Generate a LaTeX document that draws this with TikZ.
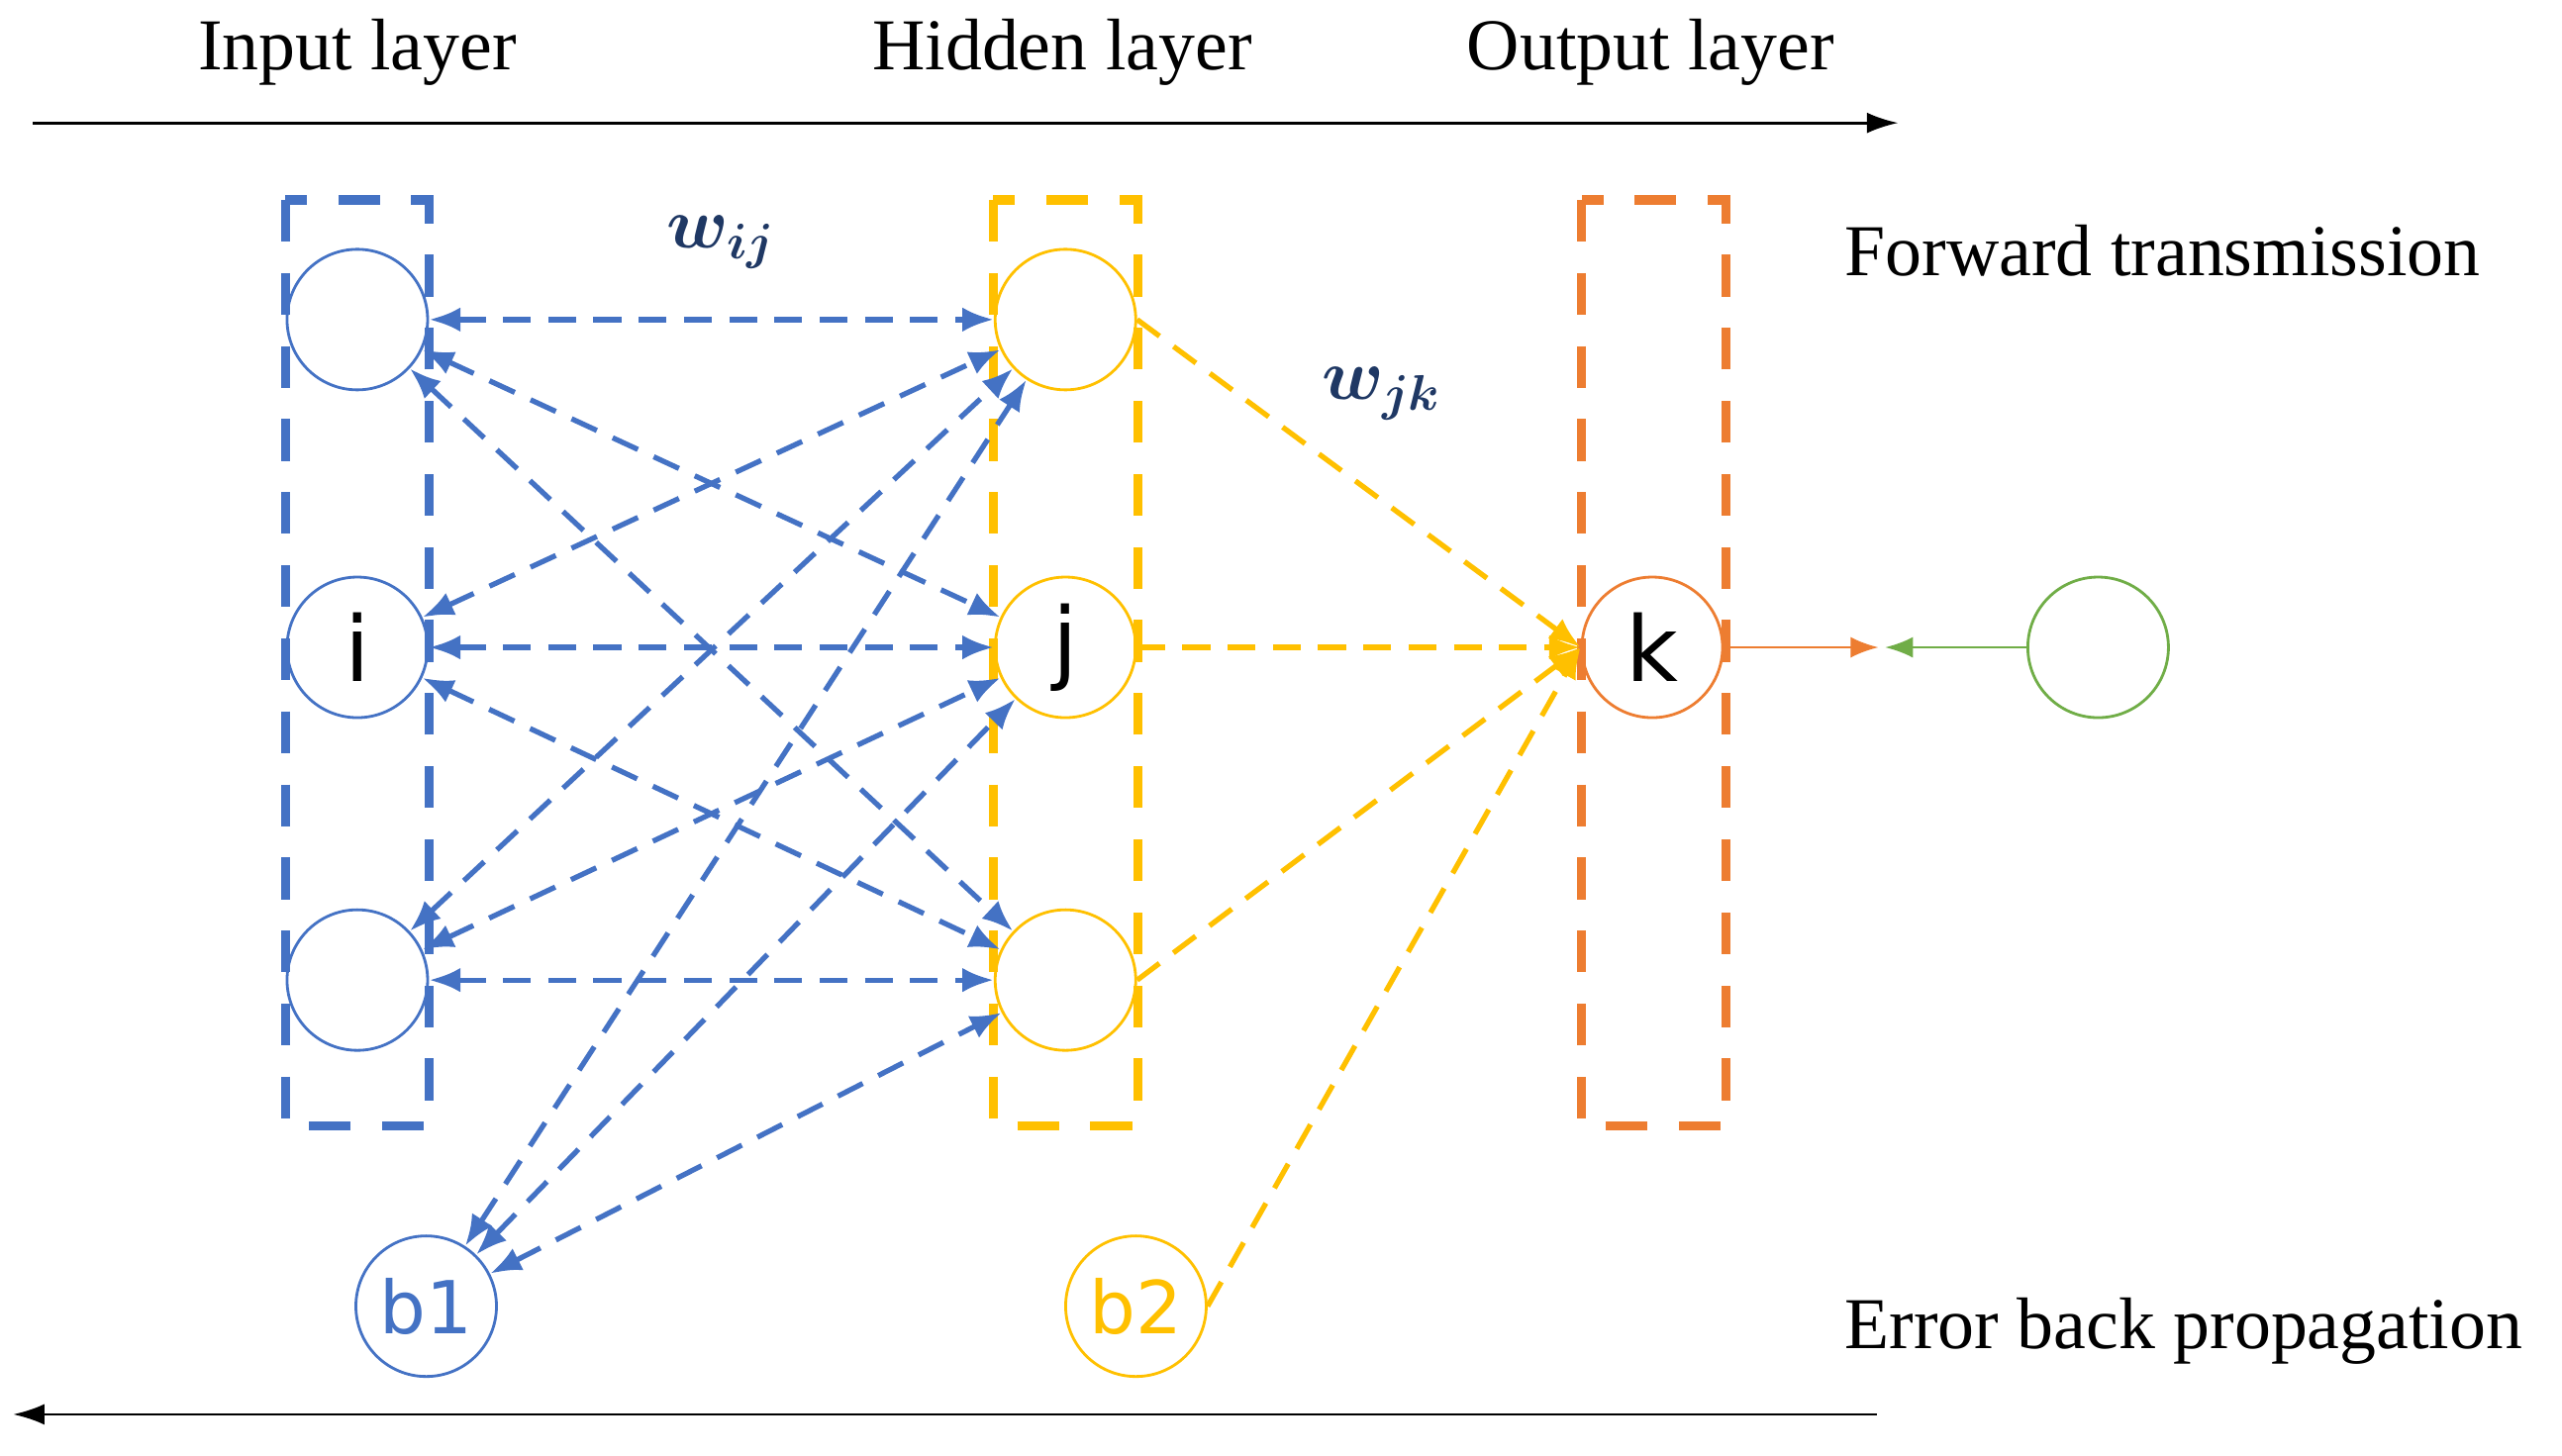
\documentclass[tikz,border=0pt]{standalone}
\usepackage{amsmath,amssymb,bm}
\usepackage{fontspec}
\setmainfont{Liberation Serif}
\newfontfamily\nodefont{DejaVu Sans}
\usetikzlibrary{arrows.meta}
\definecolor{cblue}{HTML}{4472C4}
\definecolor{cyel}{HTML}{FFC000}
\definecolor{cor}{HTML}{ED7D31}
\definecolor{cgr}{HTML}{70AD47}
\definecolor{cdk}{HTML}{1F3864}
\begin{document}
\begin{tikzpicture}[x=0.01656cm,y=-0.01656cm,
 neu/.style={circle,draw,line width=0.8pt,minimum size=1.42cm,inner sep=0pt,font=\nodefont\fontsize{26}{28}\selectfont},
 box/.style={draw,line width=2.6pt,dash pattern=on 12pt off 9pt},
 bl/.style={cblue,line width=1.5pt,dash pattern=on 8pt off 5pt,{Latex[length=9pt,width=7pt]}-{Latex[length=9pt,width=7pt]}},
 yl/.style={cyel,line width=1.5pt,dash pattern=on 8pt off 5pt,-{Latex[length=9pt,width=7pt]}},
 lab/.style={font=\fontsize{21}{24}\selectfont},
 wl/.style={cdk,font=\fontsize{22}{24}\selectfont}]
\useasboundingbox (0,0) rectangle (1563,888);
\draw[box,cblue] (174,122) rectangle (262,687);
\draw[box,cyel] (606,122) rectangle (694,687);
\draw[box,cor] (965,122) rectangle (1053,687);
\node[neu,cblue] (i1) at (218,195) {};
\node[neu,cblue,text=black] (i2) at (218,395) {i};
\node[neu,cblue] (i3) at (218,598) {};
\node[neu,cyel] (h1) at (650,195) {};
\node[neu,cyel,text=black] (h2) at (650,395) {j};
\node[neu,cyel] (h3) at (650,598) {};
\node[neu,cor,text=black] (k) at (1008,395) {k};
\node[neu,cgr] (g) at (1280,395) {};
\node[neu,cblue,text=cblue,font=\nodefont\fontsize{21}{24}\selectfont] (b1) at (260,797) {b1};
\node[neu,cyel,text=cyel,font=\nodefont\fontsize{21}{24}\selectfont] (b2) at (693,797) {b2};
\foreach \a in {i1,i2,i3,b1}{\foreach \b in {h1,h2,h3}{\draw[bl] (\a) -- (\b);}}
\draw[yl] (h1.east) -- (k.west);
\draw[yl] (h2) -- (k.west);
\draw[yl] (h3.east) -- (k.west);
\draw[yl] (b2.east) -- (k.west);
\coordinate (m1) at (1146,395);
\coordinate (m2) at (1150,395);
\draw[cor,line width=0.8pt,-{Latex[length=8pt,width=6pt]}] (k) -- (m1);
\draw[cgr,line width=0.8pt,-{Latex[length=8pt,width=6pt]}] (g) -- (m2);
\coordinate (t1) at (20,75); \coordinate (t2) at (1158,75);
\coordinate (u1) at (1145,863); \coordinate (u2) at (8,863);
\draw[line width=0.8pt,-{Latex[length=9pt,width=6pt]}] (t1) -- (t2);
\draw[line width=0.8pt,-{Latex[length=9pt,width=6pt]}] (u1) -- (u2);
\node[lab] (l1) at (218,32) {Input layer};
\node[lab] (l2) at (648,32) {Hidden layer};
\node[lab] (l3) at (1007,32) {Output layer};
\node[lab,anchor=west] (l4) at (1118,153) {Forward transmission};
\node[lab,anchor=west] (l5) at (1118,812) {Error back propagation};
\node[wl] (w1) at (440,148) {$\bm{w_{ij}}$};
\node[wl] (w2) at (843,240) {$\bm{w_{jk}}$};
\end{tikzpicture}
\end{document}
